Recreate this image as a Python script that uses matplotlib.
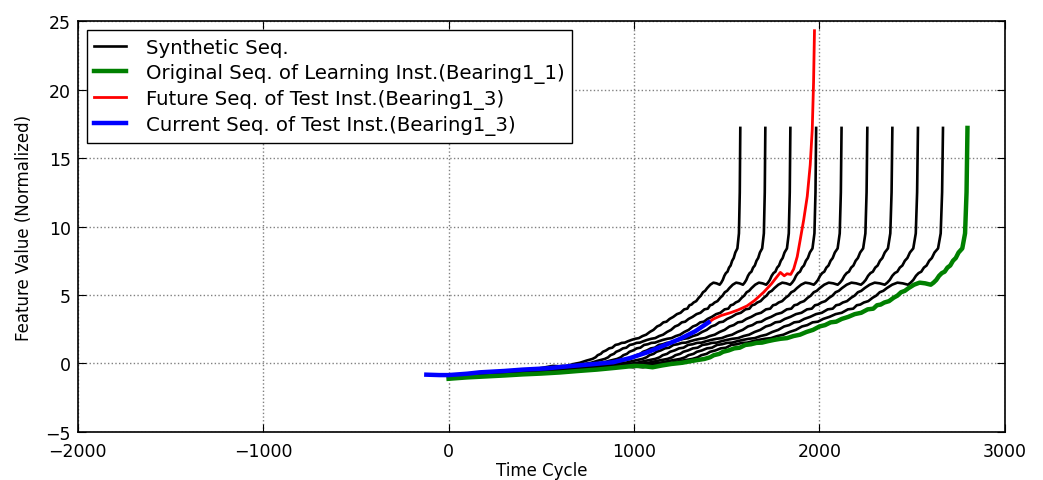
import numpy as np
import matplotlib
matplotlib.use("Agg")
import matplotlib.pyplot as plt

# original degradation sequence of the learning instance (Bearing1_1)
green_x = [0, 100, 200, 300, 400, 500, 600, 700, 800, 900, 1000, 1050, 1100, 1150,
           1200, 1260, 1320, 1380, 1410, 1430, 1460, 1480, 1510, 1540, 1570, 1600,
           1630, 1660, 1690, 1720, 1755, 1790, 1825, 1860, 1895, 1930, 1965, 2000,
           2030, 2060, 2090, 2120, 2155, 2190, 2225, 2260, 2290, 2310, 2330, 2350,
           2375, 2400, 2420, 2440, 2460, 2480, 2510, 2540, 2570, 2600, 2615, 2630,
           2645, 2660, 2675, 2690, 2705, 2720, 2735, 2750, 2770, 2785, 2793, 2798]
green_y = [-1.12, -1.02, -0.95, -0.88, -0.8, -0.74, -0.66, -0.55, -0.45, -0.32,
           -0.18, -0.2, -0.28, -0.15, -0.04, 0.05, 0.2, 0.33, 0.45, 0.6, 0.7, 0.85,
           0.95, 1.1, 1.15, 1.35, 1.4, 1.5, 1.52, 1.62, 1.72, 1.8, 1.85, 2.0, 2.1,
           2.3, 2.45, 2.7, 2.8, 3.0, 3.05, 3.25, 3.4, 3.6, 3.7, 3.95, 4.0, 4.25,
           4.3, 4.45, 4.55, 4.8, 4.95, 5.2, 5.3, 5.5, 5.75, 5.9, 5.85, 5.75, 5.9,
           6.1, 6.4, 6.6, 6.7, 7.0, 7.15, 7.5, 7.7, 8.1, 8.4, 9.5, 12.5, 17.2]

# end cycle of each synthetic sequence (time-scaled copies of the original)
synth_end = [1573, 1708, 1843, 1982, 2119, 2258, 2393, 2531, 2666]

# test instance (Bearing1_3): current part and future part
blue_x = [-120, -50, 0, 100, 168, 300, 400, 528, 650, 780, 888, 980, 1069, 1160,
          1249, 1330, 1402]
blue_y = [-0.82, -0.85, -0.85, -0.75, -0.65, -0.55, -0.45, -0.36, -0.2, -0.05,
          0.09, 0.4, 0.8, 1.3, 1.8, 2.35, 3.0]
red_x = [1402, 1429, 1470, 1519, 1560, 1609, 1650, 1699, 1740, 1789, 1810, 1825,
         1845, 1861, 1880, 1897, 1915, 1934, 1950, 1961, 1968, 1973]
red_y = [3.0, 3.25, 3.5, 3.7, 3.9, 4.2, 4.6, 5.2, 5.8, 6.65, 6.4, 6.55, 6.5, 6.9,
         7.8, 9.1, 10.5, 12.2, 14.5, 17.1, 20.5, 24.3]

plt.rcParams['font.family'] = 'DejaVu Sans'
fig = plt.figure(figsize=(10.43, 4.81), dpi=100)
ax = fig.add_axes([0.0745, 0.1, 0.889, 0.854])

gx = np.array(green_x, dtype=float)
for i, end in enumerate(synth_end):
    ax.plot(gx * end / green_x[-1], green_y, color='k', lw=1.9,
            label='Synthetic Seq.' if i == 0 else None)
ax.plot(green_x, green_y, color='green', lw=3.2,
        label='Original Seq. of Learning Inst.(Bearing1_1)')
ax.plot(red_x, red_y, color='red', lw=2.0,
        label='Future Seq. of Test Inst.(Bearing1_3)')
ax.plot(blue_x, blue_y, color='blue', lw=3.2,
        label='Current Seq. of Test Inst.(Bearing1_3)')

ax.set_xlim(-2000, 3000)
ax.set_ylim(-5, 25)
ax.set_xticks(range(-2000, 3001, 1000))
ax.set_yticks(range(-5, 26, 5))
ax.grid(True, color='gray', linestyle=':', linewidth=1.0)
ax.tick_params(direction='in', top=True, right=True, length=6, labelsize=12.5)
ax.tick_params(axis='x', pad=7)
ax.tick_params(axis='y', pad=5)
for s in ax.spines.values():
    s.set_linewidth(1.2)
ax.set_xlabel('Time Cycle', fontsize=12, labelpad=1)
ax.set_ylabel('Feature Value (Normalized)', fontsize=12, labelpad=9)

leg = ax.legend(loc='upper left', fontsize=14.2, handlelength=1.6,
                handletextpad=1.0, fancybox=False, framealpha=1,
                borderaxespad=0.45, labelspacing=0.3)
leg.get_frame().set_edgecolor('k')
leg.get_frame().set_linewidth(1.0)

fig.savefig('out.png', dpi=100)
